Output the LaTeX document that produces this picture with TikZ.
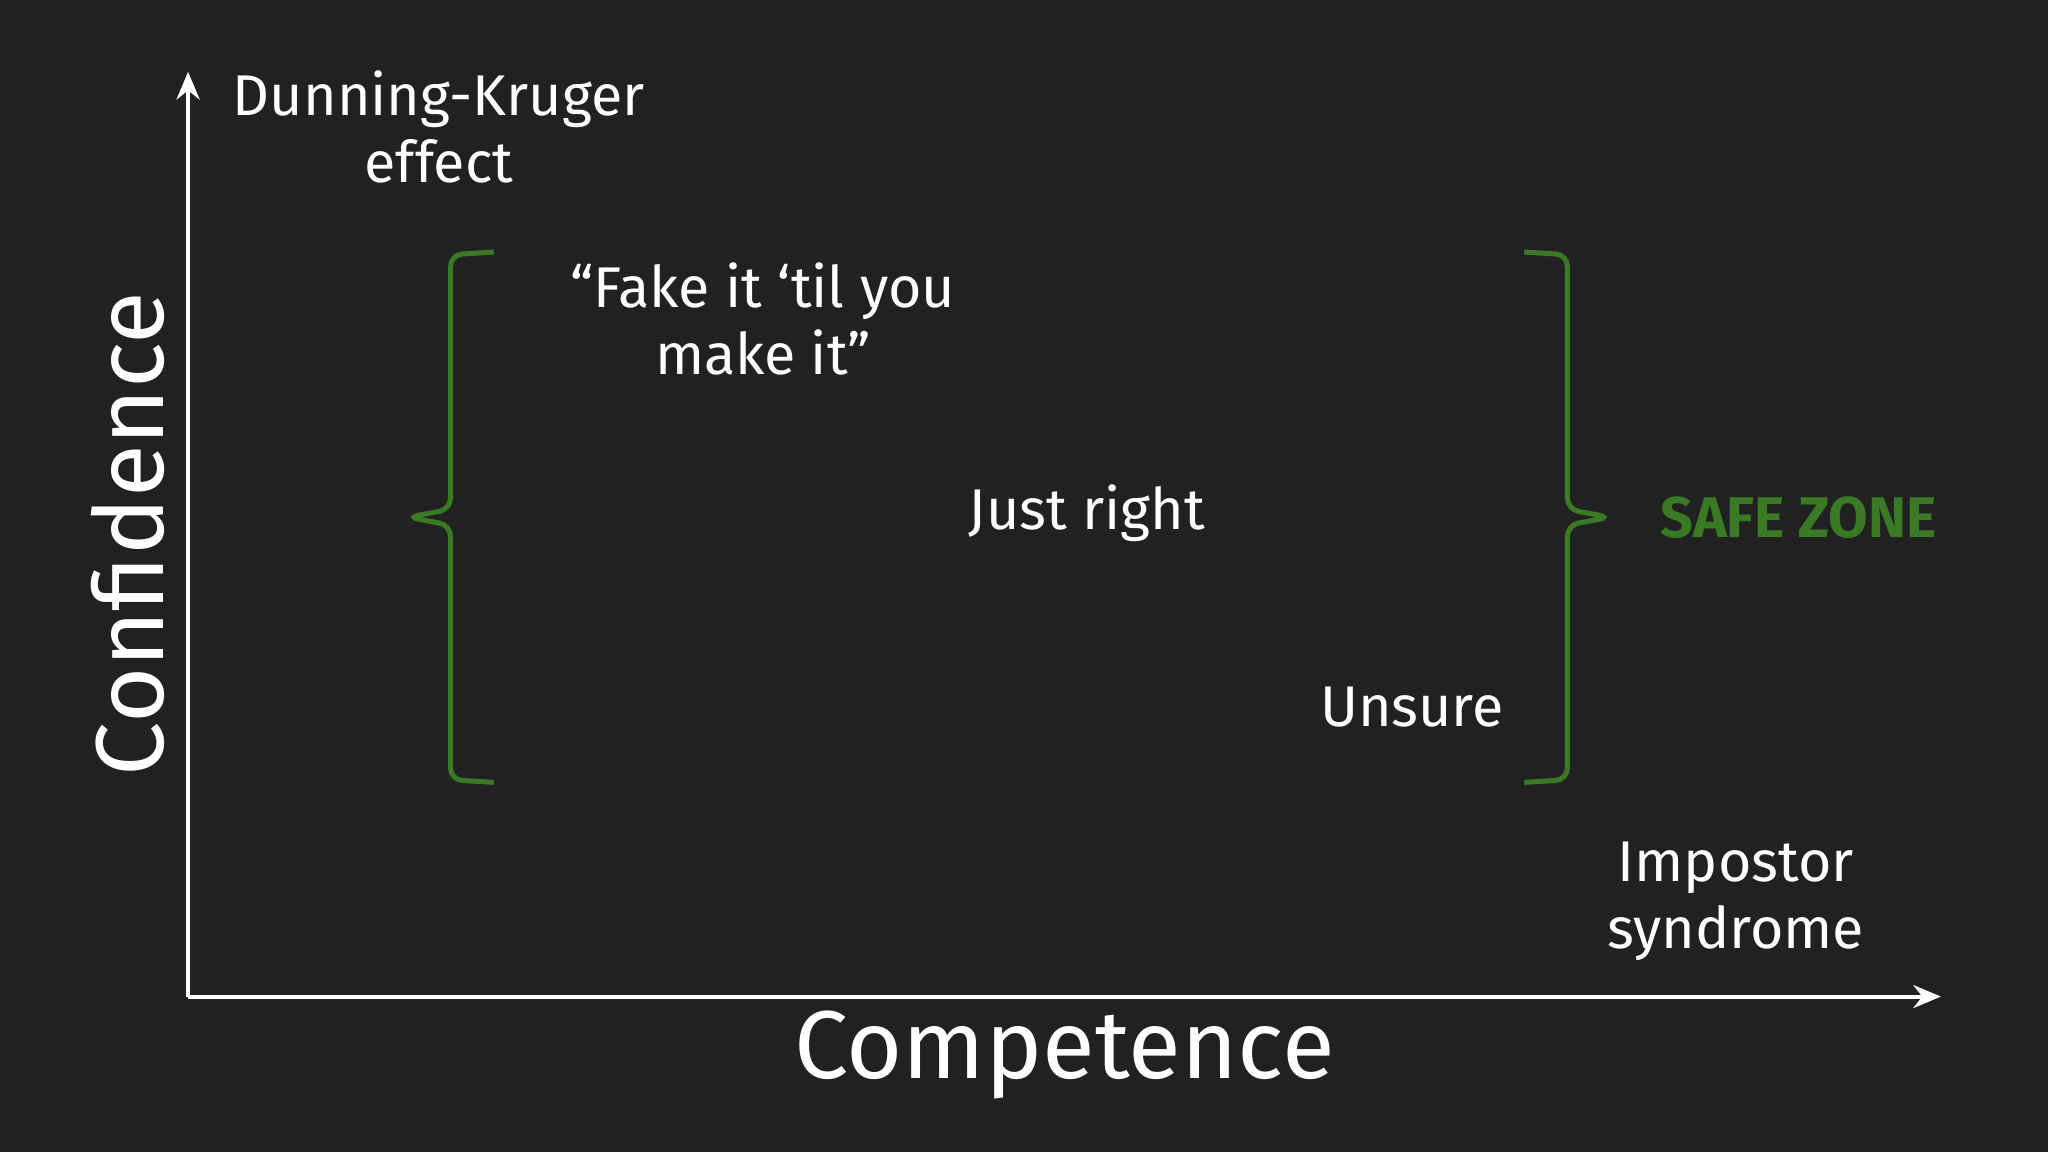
\documentclass[tikz,border=0pt]{standalone}
\usepackage{fontspec}
\setmainfont{Fira Sans}
\definecolor{bg}{HTML}{212122}
\definecolor{zone}{HTML}{3B7A24}
\tikzset{lbl/.style={text=white,font=\fontsize{12.5}{14.5}\selectfont,align=center,inner sep=0pt},
 big/.style={text=white,font=\fontsize{21}{24}\selectfont,inner sep=0pt},
 brace/.style={draw=zone,line width=1.1pt,rounded corners=2.5pt},
 axis/.style={draw=white,line width=0.9pt,-{Stealth[length=6pt,width=5pt]}}}
\usetikzlibrary{arrows.meta}
\begin{document}
\begin{tikzpicture}[x=0.01cm,y=-0.01cm]
\fill[bg] (0,0) rectangle (1568,882);
\coordinate (o) at (144,763);
\coordinate (ytop) at (144,55);
\coordinate (xend) at (1486,763);
\draw[axis] (o) -- (ytop);
\draw[axis] (o) -- (xend);
\node[lbl] (dk) at (336,97) {Dunning-Kruger\\effect};
\node[lbl] (fake) at (584,244) {“Fake it ‘til you\\make it”};
\node[lbl] (just) at (832,393) {Just right};
\node[lbl] (uns) at (1081,541) {Unsure};
\node[lbl] (imp) at (1329,690) {Impostor\\syndrome};
\node[lbl,text=zone,font=\fontsize{12.5}{14.5}\selectfont\bfseries] (safe) at (1377,396) {SAFE ZONE};
\node[big] (comp) at (815,808) {Competence};
\node[big,rotate=90] (conf) at (98,409) {Confidence};
\draw[brace] (378,193) -- (345,195) -- (345,390) -- (312,396) -- (345,402) -- (345,597) -- (378,599);
\draw[brace] (1167,193) -- (1200,195) -- (1200,390) -- (1233,396) -- (1200,402) -- (1200,597) -- (1167,599);
\end{tikzpicture}
\end{document}
